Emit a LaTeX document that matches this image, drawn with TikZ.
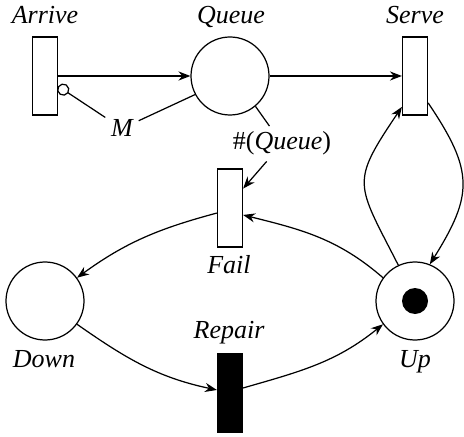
\documentclass[tikz,border=0pt]{standalone}
\usepackage{fontspec}
\setmainfont{Liberation Serif}
\newfontfamily\timesfont{Liberation Serif}
\usetikzlibrary{arrows.meta}
\tikzset{
  place/.style={draw, circle, minimum size=1.56cm, inner sep=0pt},
  trans/.style={draw, rectangle, minimum width=0.5cm, minimum height=1.56cm, inner sep=0pt},
  token/.style={fill, circle, minimum size=0.52cm, inner sep=0pt},
  lbl/.style={font=\timesfont\fontsize{14.8}{17}\selectfont\itshape, inner sep=0pt, anchor=base},
  arc/.style={-{Stealth[length=6.8pt, width=5.2pt]}},
}
\begin{document}
\begin{tikzpicture}[line width=0.7pt]
\useasboundingbox (0,0) rectangle (9.28,8.72);
% places and transitions
\node[trans] (arrive) at (0.9,7.2) {};
\node[place] (queue) at (4.6,7.2) {};
\node[trans] (serve) at (8.3,7.2) {};
\node[trans] (fail) at (4.6,4.56) {};
\node[place] (down) at (0.9,2.7) {};
\node[place] (up) at (8.3,2.7) {};
\node[token] (tok) at (up) {};
\node[trans, fill] (repair) at (4.6,0.86) {};
% labels
\node[lbl] (arriveLbl) at (0.9,8.24) {Arrive};
\node[lbl] (queueLbl) at (4.62,8.24) {Queue};
\node[lbl] (serveLbl) at (8.3,8.24) {Serve};
\node[lbl] (failLbl) at (4.58,3.26) {Fail};
\node[lbl] (downLbl) at (0.88,1.38) {Down};
\node[lbl] (repairLbl) at (4.58,1.96) {Repair};
\node[lbl] (upLbl) at (8.3,1.38) {Up};
\node[lbl, inner sep=3pt] (mult) at (2.44,5.98) {M};
\node[lbl, inner sep=3pt, font=\timesfont\fontsize{14.8}{17}\selectfont] (count) at (5.64,5.72) {\#(\textit{Queue})};
% arcs
\draw[arc] (arrive) -- (queue);
\draw[arc] (queue) -- (serve);
\draw (queue.208) -- (mult);
\draw[-{Circle[open, length=7pt]}] (mult) -- (arrive.-38);
\draw (queue.-50) -- (count);
\draw[arc] (count) -- (fail.56);
\draw[arc] (up.115) to[out=117, in=236, looseness=1.5] (serve.247);
\draw[arc] (serve.-64) to[out=-56, in=58, looseness=1.3] (up.68);
\draw[arc] (up.144) to[out=139, in=-14] (fail.-28);
\draw[arc] (fail.201) to[out=195, in=36] (down.36);
\draw[arc] (down.-36) to[out=-35, in=168] (repair.167);
\draw[arc] (repair.21) to[out=16, in=219] (up.216);
\end{tikzpicture}
\end{document}
